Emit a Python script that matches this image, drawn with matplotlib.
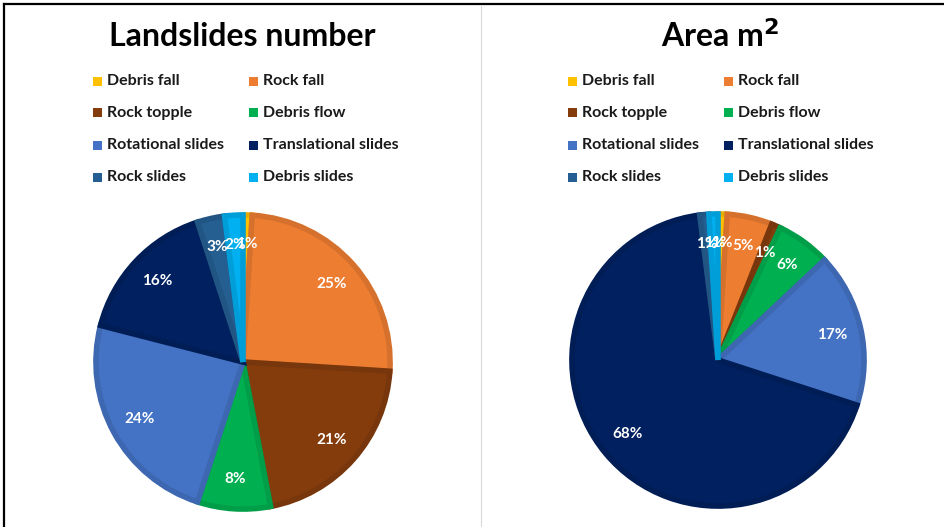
import matplotlib
matplotlib.use("Agg")
import matplotlib.pyplot as plt
from matplotlib.patches import Rectangle
from matplotlib.lines import Line2D
import matplotlib.colors as mcolors

categories = ["Debris fall", "Rock fall", "Rock topple", "Debris flow",
              "Rotational slides", "Translational slides", "Rock slides", "Debris slides"]
number_pct = [1, 25, 21, 8, 24, 16, 3, 2]
area_pct = [1, 5, 1, 6, 17, 68, 1, 1]
titles = ["Landslides number", "Area m$^\\mathbf{2}$"]

colors = ["#FFC000", "#ED7D31", "#843C0C", "#00B050",
          "#4472C4", "#002060", "#255E91", "#00B0F0"]

W, H = 944, 527
fig = plt.figure(figsize=(W / 100, H / 100), dpi=100)
FONT = "Lato"


def darker(c, f=0.9):
    r, g, b = mcolors.to_rgb(c)
    return (r * f, g * f, b * f)


def draw_pie(values, cx, cy, r, title, tx, legend_x0):
    ax = fig.add_axes([(cx - r) / W, 1 - (cy + r) / H, 2 * r / W, 2 * r / H])
    wedges, _, autotexts = ax.pie(
        values, colors=colors, startangle=90, counterclock=False, radius=1,
        autopct=lambda p: f"{p:.0f}%", pctdistance=0.8,
        wedgeprops=dict(linewidth=4, edgecolor="none"),
        textprops=dict(color="white", fontsize=11, fontweight="bold", family=FONT))
    # bevelled rim: darker band kept inside each wedge
    for w, c in zip(wedges, colors):
        w.set_edgecolor(darker(c))
        w.set_clip_path(w)
    ax.set_xlim(-1.02, 1.02)
    ax.set_ylim(-1.02, 1.02)
    ax.set_aspect("equal")
    ax.axis("off")

    fig.text(tx / W, 1 - 36 / H, title, ha="center", va="center",
             fontsize=23, fontweight="bold", family=FONT, color="black")

    col_dx = 156
    rows_y = [81, 113, 145, 177]
    for i, name in enumerate(categories):
        row, col = divmod(i, 2)
        x = legend_x0 + col * col_dx
        y = rows_y[row]
        fig.patches.append(Rectangle(((x - 14) / W, 1 - (y + 4.5) / H), 9 / W, 9 / H,
                                     transform=fig.transFigure, facecolor=colors[i],
                                     edgecolor="none"))
        fig.text(x / W, 1 - y / H, name, ha="left", va="center",
                 fontsize=11.5, fontweight="bold", family=FONT, color="#1a1a1a")


draw_pie(number_pct, 243, 362, 150, titles[0], 242, 107)
draw_pie(area_pct, 718, 360, 149, titles[1], 720, 582)

# frame and divider
fig.add_artist(Line2D([4 / W, 4 / W], [0, 1 - 4 / H], transform=fig.transFigure,
                      color="black", lw=1.6))
fig.add_artist(Line2D([4 / W, 1], [1 - 4 / H, 1 - 4 / H], transform=fig.transFigure,
                      color="black", lw=1.6))
fig.add_artist(Line2D([481 / W, 481 / W], [0, 1 - 5 / H], transform=fig.transFigure,
                      color="#D9D9D9", lw=0.8))

fig.savefig("out.png", dpi=100, facecolor="white")
